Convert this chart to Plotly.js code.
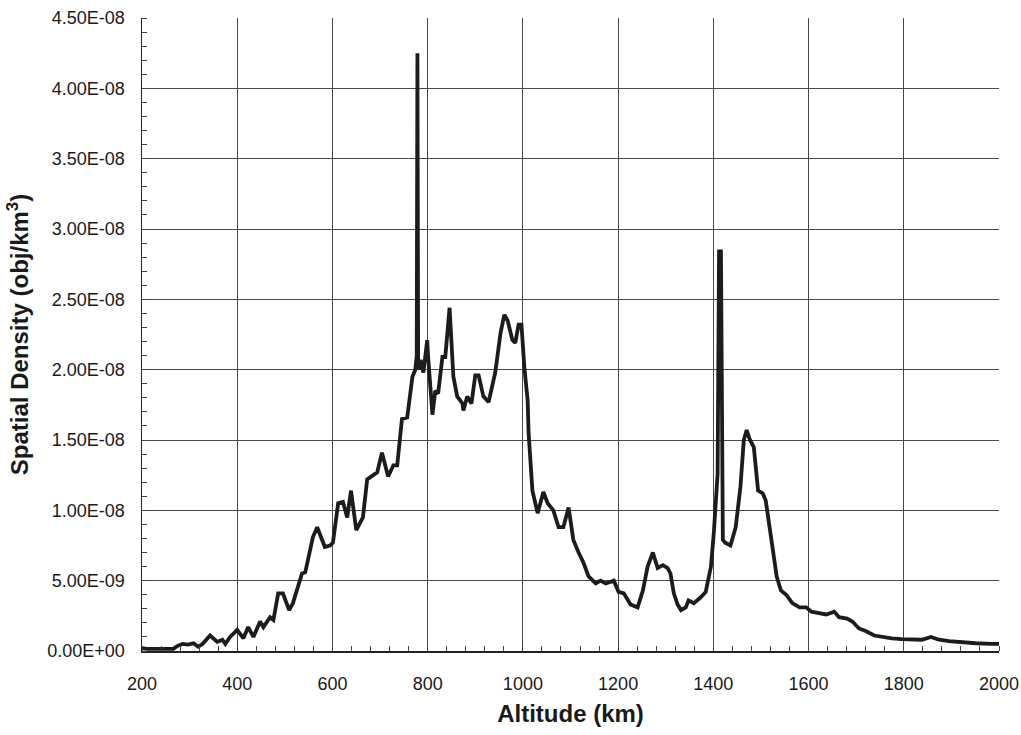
<!DOCTYPE html>
<html>
<head>
<meta charset="utf-8">
<script src="https://cdn.plot.ly/plotly-3.0.1.min.js"></script>
<style>
  html, body { margin: 0; padding: 0; background: #ffffff; }
  #chart { width: 1021px; height: 735px; }
</style>
</head>
<body>
<div id="chart"></div>
<script>
// Altitude (km)
const altitude = [
  200, 210, 230, 250, 266, 274, 285, 297, 308, 318, 327, 343, 358, 369, 375, 385,
  400, 413, 423, 434, 448, 455, 469, 476, 486, 496, 509, 517, 528, 536, 543, 553,
  559, 568, 578, 584, 595, 601, 612, 622, 631, 639, 650, 664, 673, 685, 694, 704,
  717, 728, 736, 746, 757, 768, 774, 777, 778.5, 780, 783, 785, 791, 799, 801, 810,
  816, 822, 831, 837, 846, 854, 862, 873, 875, 883, 892, 900, 907, 917, 928, 942,
  953, 961, 968, 978, 984, 991, 997, 1003, 1010, 1012, 1016, 1020, 1031, 1043, 1052, 1058,
  1064, 1075, 1085, 1096, 1106, 1117, 1127, 1138, 1153, 1163, 1174, 1191, 1201, 1212, 1226, 1241,
  1252, 1262, 1273, 1283, 1294, 1304, 1310, 1317, 1325, 1332, 1342, 1348, 1359, 1373, 1384, 1395,
  1401, 1409, 1412, 1416, 1420, 1425, 1436, 1447, 1457, 1464, 1470, 1477, 1485, 1494, 1504, 1510,
  1516, 1525, 1533, 1542, 1553, 1566, 1581, 1595, 1606, 1623, 1637, 1654, 1664, 1681, 1692, 1706,
  1721, 1738, 1754, 1775, 1796, 1817, 1838, 1857, 1874, 1895, 1922, 1951, 1985, 2000
];
// Spatial density (obj/km^3)
const density = [
  2.0e-10, 1.5e-10, 1.5e-10, 1.5e-10, 1.5e-10, 3.5e-10, 5.0e-10, 4.5e-10, 5.5e-10, 3.0e-10, 5.0e-10, 1.1e-9, 6.5e-10, 8.0e-10, 5.0e-10, 1.0e-9,
  1.5e-9, 9.0e-10, 1.7e-9, 1.0e-9, 2.1e-9, 1.7e-9, 2.4e-9, 2.2e-9, 4.1e-9, 4.1e-9, 2.9e-9, 3.4e-9, 4.5e-9, 5.5e-9, 5.6e-9, 7.0e-9,
  8.1e-9, 8.8e-9, 8.0e-9, 7.4e-9, 7.5e-9, 7.7e-9, 1.05e-8, 1.06e-8, 9.5e-9, 1.14e-8, 8.6e-9, 9.5e-9, 1.22e-8, 1.25e-8, 1.27e-8, 1.41e-8,
  1.24e-8, 1.32e-8, 1.32e-8, 1.65e-8, 1.66e-8, 1.95e-8, 2.0e-8, 2.1e-8, 4.25e-8, 2.05e-8, 2.0e-8, 2.07e-8, 1.98e-8, 2.21e-8, 2.09e-8, 1.68e-8,
  1.85e-8, 1.83e-8, 2.09e-8, 2.09e-8, 2.44e-8, 1.95e-8, 1.81e-8, 1.76e-8, 1.71e-8, 1.81e-8, 1.76e-8, 1.96e-8, 1.96e-8, 1.81e-8, 1.77e-8, 1.98e-8,
  2.26e-8, 2.39e-8, 2.35e-8, 2.21e-8, 2.19e-8, 2.32e-8, 2.32e-8, 2.02e-8, 1.78e-8, 1.55e-8, 1.31e-8, 1.14e-8, 9.8e-9, 1.13e-8, 1.05e-8, 1.02e-8,
  1.0e-8, 8.8e-9, 8.8e-9, 1.02e-8, 7.9e-9, 7.0e-9, 6.3e-9, 5.3e-9, 4.8e-9, 5.0e-9, 4.8e-9, 5.0e-9, 4.2e-9, 4.1e-9, 3.3e-9, 3.1e-9,
  4.3e-9, 6.0e-9, 7.0e-9, 5.9e-9, 6.1e-9, 5.9e-9, 5.5e-9, 4.1e-9, 3.3e-9, 2.9e-9, 3.1e-9, 3.6e-9, 3.4e-9, 3.8e-9, 4.2e-9, 6.0e-9,
  8.4e-9, 1.26e-8, 2.84e-8, 2.84e-8, 7.9e-9, 7.7e-9, 7.5e-9, 8.8e-9, 1.17e-8, 1.5e-8, 1.57e-8, 1.5e-8, 1.45e-8, 1.14e-8, 1.12e-8, 1.07e-8,
  9.1e-9, 7.2e-9, 5.3e-9, 4.3e-9, 4.0e-9, 3.4e-9, 3.1e-9, 3.1e-9, 2.8e-9, 2.7e-9, 2.6e-9, 2.8e-9, 2.4e-9, 2.3e-9, 2.1e-9, 1.6e-9,
  1.4e-9, 1.1e-9, 1.0e-9, 9.0e-10, 8.5e-10, 8.5e-10, 8.0e-10, 1.0e-9, 8.0e-10, 7.0e-10, 6.0e-10, 5.5e-10, 5.0e-10, 5.0e-10
];
// Tick labels
const xTickVals = [200, 400, 600, 800, 1000, 1200, 1400, 1600, 1800, 2000];
const xTickText = ["200", "400", "600", "800", "1000", "1200", "1400", "1600", "1800", "2000"];
const yTickVals = [0, 5e-9, 1e-8, 1.5e-8, 2e-8, 2.5e-8, 3e-8, 3.5e-8, 4e-8, 4.5e-8];
const yTickText = ["0.00E+00", "5.00E-09", "1.00E-08", "1.50E-08", "2.00E-08", "2.50E-08", "3.00E-08", "3.50E-08", "4.00E-08", "4.50E-08"];

const trace = {
  x: altitude,
  y: density,
  type: 'scatter',
  mode: 'lines',
  line: { color: '#1c1c1c', width: 3.8 },
  hoverinfo: 'x+y'
};

const fontFam = '"Liberation Sans", Arial, sans-serif';

const layout = {
  width: 1021,
  height: 735,
  margin: { l: 142, r: 22, t: 18, b: 84 },
  paper_bgcolor: '#ffffff',
  plot_bgcolor: '#ffffff',
  showlegend: false,
  font: { family: fontFam, color: '#1a1a1a', size: 18 },
  xaxis: {
    range: [200, 2000],
    tickmode: 'array',
    tickvals: xTickVals,
    ticktext: xTickText,
    ticks: '',
    showgrid: true,
    gridcolor: '#4a4a4a',
    gridwidth: 1,
    showline: true,
    linecolor: '#222',
    linewidth: 1.5,
    mirror: false,
    zeroline: false,
    ticklabelstandoff: 16,
    tickfont: { family: fontFam, size: 18, color: '#1a1a1a' },
    minor: { dtick: 40, tick0: 200, ticks: 'inside', ticklen: 5, tickcolor: '#444', showgrid: false },
    title: { text: '<b>Altitude (km)</b>', font: { family: fontFam, size: 24, color: '#1a1a1a' }, standoff: 12 }
  },
  yaxis: {
    range: [0, 4.5e-8],
    tickmode: 'array',
    tickvals: yTickVals,
    ticktext: yTickText,
    ticks: '',
    showgrid: true,
    gridcolor: '#4a4a4a',
    gridwidth: 1,
    showline: true,
    linecolor: '#222',
    linewidth: 1.5,
    zeroline: false,
    ticklabelstandoff: 12,
    tickfont: { family: fontFam, size: 18, color: '#1a1a1a' },
    minor: { dtick: 1e-9, tick0: 0, ticks: 'inside', ticklen: 5, tickcolor: '#444', showgrid: false },
    title: { text: '<b>Spatial Density (obj/km<sup>3</sup>)</b>', font: { family: fontFam, size: 24, color: '#1a1a1a' }, standoff: 12 }
  }
};

Plotly.newPlot('chart', [trace], layout, { displayModeBar: false, staticPlot: true });
</script>
</body>
</html>
